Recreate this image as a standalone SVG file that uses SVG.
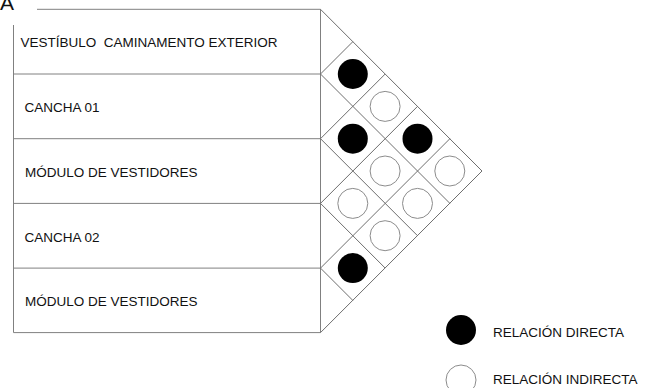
<svg xmlns="http://www.w3.org/2000/svg" width="650" height="388" viewBox="0 0 650 388">
  <style>
    .frame { fill: none; stroke: #808080; stroke-width: 1; }
    .grid { fill: none; stroke: #6e6e6e; stroke-width: 1; }
    .label { font-family: "Liberation Sans", Arial, sans-serif; font-size: 13.5px; fill: #111; white-space: pre; }
    .title { font-family: "Liberation Sans", Arial, sans-serif; font-size: 21px; fill: #111; }
    .direct { fill: #000; }
    .indirect { fill: #fff; stroke: #8c8c8c; stroke-width: 1; }
  </style>

  <rect width="650" height="388" fill="#fff"/>

  <text class="title" x="0" y="9.5">A</text>

  <!-- row boxes -->
  <g id="rows" class="frame">
    <path d="M37 9.3 H320.5 V332.6 H13.5 V25"/>
  </g>
  <g id="row1">
    <text class="label" x="20.5" y="47" xml:space="preserve">VESTÍBULO  CAMINAMENTO EXTERIOR</text>
  </g>
  <g id="row2">
    <line class="frame" x1="13.5" y1="74" x2="320.5" y2="74"/>
    <text class="label" x="24.5" y="112">CANCHA 01</text>
  </g>
  <g id="row3">
    <line class="frame" x1="13.5" y1="138.7" x2="320.5" y2="138.7"/>
    <text class="label" x="25" y="177">MÓDULO DE VESTIDORES</text>
  </g>
  <g id="row4">
    <line class="frame" x1="13.5" y1="203.4" x2="320.5" y2="203.4"/>
    <text class="label" x="24.5" y="241.7">CANCHA 02</text>
  </g>
  <g id="row5">
    <line class="frame" x1="13.5" y1="268.1" x2="320.5" y2="268.1"/>
    <text class="label" x="25" y="306">MÓDULO DE VESTIDORES</text>
  </g>

  <!-- relation matrix (triangular grid) -->
  <g id="connectors" class="grid">
    <path d="M320.5 9.3 L482 171 L320.5 332.6"/>
    <!-- down-right diagonals -->
    <path d="M320.5 74 L449.8 203.3"/>
    <path d="M320.5 138.7 L417.5 235.7"/>
    <path d="M320.5 203.4 L385.1 268"/>
    <path d="M320.5 268.1 L352.8 300.4"/>
    <!-- up-right diagonals -->
    <path d="M320.5 74 L352.8 41.7"/>
    <path d="M320.5 138.7 L385.2 74"/>
    <path d="M320.5 203.4 L417.5 106.4"/>
    <path d="M320.5 268.1 L449.9 138.7"/>
  </g>

  <!-- relation markers -->
  <g id="relations">
    <circle class="direct" cx="352.8" cy="74" r="15"/>
    <circle class="direct" cx="352.8" cy="138.7" r="15"/>
    <circle class="indirect" cx="352.8" cy="203.4" r="15"/>
    <circle class="direct" cx="352.8" cy="268.1" r="15"/>
    <circle class="indirect" cx="385.1" cy="106.4" r="15"/>
    <circle class="indirect" cx="385.1" cy="171" r="15"/>
    <circle class="indirect" cx="385.1" cy="235.7" r="15"/>
    <circle class="direct" cx="417.5" cy="138.7" r="15"/>
    <circle class="indirect" cx="417.5" cy="203.4" r="15"/>
    <circle class="indirect" cx="449.8" cy="171" r="15"/>
  </g>

  <!-- legend -->
  <g id="legend-direct">
    <circle class="direct" cx="461" cy="330" r="15"/>
    <text class="label" x="493" y="336.5">RELACIÓN DIRECTA</text>
  </g>
  <g id="legend-indirect">
    <circle class="indirect" cx="461" cy="380" r="15"/>
    <text class="label" x="493" y="384">RELACIÓN INDIRECTA</text>
  </g>
</svg>
